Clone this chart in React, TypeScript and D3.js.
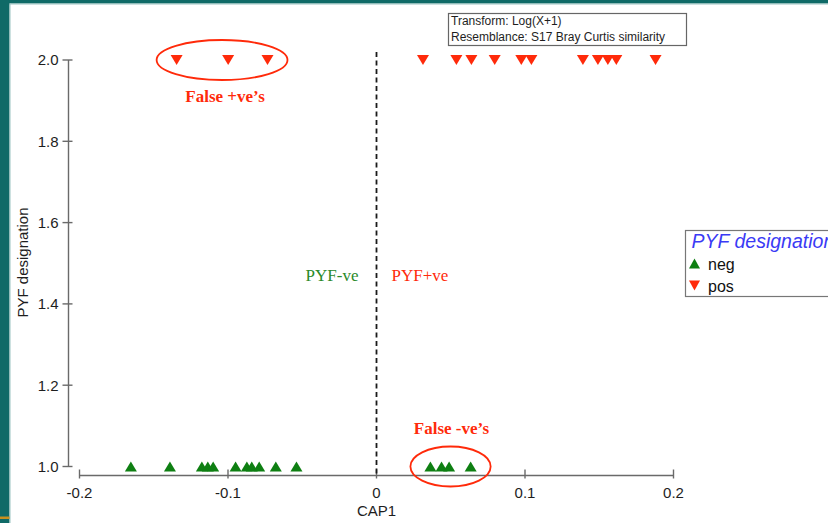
import React from "react";
import * as d3 from "d3";

// CAP1 scores of the samples, split by PYF designation (2 = pos, 1 = neg)
const posCap1 = [-0.1346, -0.0999, -0.0734, 0.0313, 0.0538, 0.0639, 0.0796, 0.0975, 0.1043, 0.139, 0.1491, 0.1558, 0.1615, 0.1879];
const negCap1 = [-0.1654, -0.1391, -0.1176, -0.1136, -0.11, -0.0949, -0.0873, -0.084, -0.079, -0.0678, -0.0539, 0.0363, 0.0438, 0.0489, 0.0634];
const posLevel = 2;
const negLevel = 1;

// misclassified samples (highlighted with ellipses)
const falsePos = [-0.1346, -0.0999, -0.0734];
const falseNeg = [0.0363, 0.0438, 0.0489, 0.0634];

const xTicks = [-0.2, -0.1, 0, 0.1, 0.2];
const xTickLabels = ["-0.2", "-0.1", "0", "0.1", "0.2"];
const yTicks = [1.0, 1.2, 1.4, 1.6, 1.8, 2.0];
const yTickLabels = ["1.0", "1.2", "1.4", "1.6", "1.8", "2.0"];

const infoLines = ["Transform: Log(X+1)", "Resemblance: S17 Bray Curtis similarity"];
const legendTitle = "PYF designation";
const legendItems = ["neg", "pos"];

const W = 828;
const H = 523;
const RED = "#ff2a0a";
const GREEN = "#0e7f12";
const AXIS = "#6a6a6a";
const TEXT = "#1e1e1e";
const SANS = "'Liberation Sans', Arial, sans-serif";
const SERIF = "'Liberation Serif', 'Times New Roman', serif";

const x = d3.scaleLinear().domain([-0.2, 0.2]).range([79.5, 673.5]);
const y = d3.scaleLinear().domain([1, 2]).range([466.5, 60]);
const xAxisY = 475.5;
const yAxisX = 68.5;

const triUp = (w: number, h: number) => `M0,${-h / 2}L${w / 2},${h / 2}L${-w / 2},${h / 2}Z`;
const triDown = (w: number, h: number) => `M0,${h / 2}L${w / 2},${-h / 2}L${-w / 2},${-h / 2}Z`;

function ellipseAround(vals: number[], level: number) {
  const lo = x(d3.min(vals) as number);
  const hi = x(d3.max(vals) as number);
  return { cx: (lo + hi) / 2, cy: y(level), rx: (hi - lo) / 2 + 20, ry: 20 };
}

export default function App() {
  const eTop = ellipseAround(falsePos, posLevel);
  const eBot = ellipseAround(falseNeg, negLevel);
  const zeroX = x(0);

  return (
    <svg
      width={W}
      height={H}
      viewBox={`0 0 ${W} ${H}`}
      style={{ position: "absolute", left: 0, top: 0, background: "#fff" }}
    >
      {/* slide frame */}
      <rect x={0} y={0} width={W} height={H} fill="#fff" />
      <rect x={0} y={0} width={W} height={3.5} fill="#0f6a67" />
      <rect x={0} y={3.5} width={W} height={1} fill="#9cc4c2" />
      <rect x={0} y={0} width={9.5} height={H} fill="#0f6a67" />
      <rect x={9.5} y={3.5} width={1} height={H} fill="#9cc4c2" />
      <rect x={0} y={516.5} width={9.5} height={2.5} fill="#c8901e" />

      {/* y axis */}
      <line x1={yAxisX} x2={yAxisX} y1={y(2)} y2={y(1)} stroke={AXIS} strokeWidth={1.4} />
      {yTicks.map((t, i) => (
        <g key={"yt" + i}>
          <line x1={yAxisX - 6} x2={yAxisX + 4} y1={y(t)} y2={y(t)} stroke={AXIS} strokeWidth={1.4} />
          <text x={58.5} y={y(t)} dy="0.36em" textAnchor="end" fontFamily={SANS} fontSize={15} fill={TEXT}>
            {yTickLabels[i]}
          </text>
        </g>
      ))}
      <text
        transform={`translate(27.5, 262.5) rotate(-90)`}
        textAnchor="middle"
        fontFamily={SANS}
        fontSize={15}
        fill={TEXT}
      >
        PYF designation
      </text>

      {/* x axis */}
      <line x1={x(-0.2)} x2={x(0.2)} y1={xAxisY} y2={xAxisY} stroke={AXIS} strokeWidth={1.4} />
      {xTicks.map((t, i) => (
        <g key={"xt" + i}>
          <line x1={x(t)} x2={x(t)} y1={xAxisY - 6} y2={xAxisY + 3} stroke={AXIS} strokeWidth={1.4} />
          <text x={x(t)} y={497.5} textAnchor="middle" fontFamily={SANS} fontSize={15} fill={TEXT}>
            {xTickLabels[i]}
          </text>
        </g>
      ))}
      <text x={x(0)} y={516} textAnchor="middle" fontFamily={SANS} fontSize={15} fill={TEXT}>
        CAP1
      </text>

      {/* decision boundary at CAP1 = 0 */}
      <line x1={zeroX} x2={zeroX} y1={52} y2={xAxisY} stroke="#1a1a1a" strokeWidth={1.8} strokeDasharray="5,3.5" />
      <text x={zeroX - 18} y={281} textAnchor="end" fontFamily={SERIF} fontSize={17} fill="#2a8a2a">
        PYF-ve
      </text>
      <text x={zeroX + 15} y={281} textAnchor="start" fontFamily={SERIF} fontSize={17} fill={RED}>
        PYF+ve
      </text>

      {/* samples */}
      {posCap1.map((v, i) => (
        <path key={"p" + i} d={triDown(12, 10)} transform={`translate(${x(v)},${y(posLevel)})`} fill={RED} />
      ))}
      {negCap1.map((v, i) => (
        <path key={"n" + i} d={triUp(12, 10)} transform={`translate(${x(v)},${y(negLevel)})`} fill={GREEN} />
      ))}

      {/* misclassification callouts */}
      <ellipse cx={eTop.cx} cy={eTop.cy} rx={eTop.rx} ry={eTop.ry} fill="none" stroke={RED} strokeWidth={1.8} />
      <text x={eTop.cx + 3} y={101.5} textAnchor="middle" fontFamily={SERIF} fontWeight="bold" fontSize={17} fill={RED}>
        False +ve’s
      </text>
      <ellipse cx={eBot.cx} cy={eBot.cy} rx={eBot.rx} ry={eBot.ry} fill="none" stroke={RED} strokeWidth={1.8} />
      <text x={eBot.cx + 1} y={434} textAnchor="middle" fontFamily={SERIF} fontWeight="bold" fontSize={17} fill={RED}>
        False -ve’s
      </text>

      {/* analysis info box */}
      <rect x={448.5} y={13.5} width={238} height={32} fill="#fff" stroke="#666" strokeWidth={1.2} />
      {infoLines.map((s, i) => (
        <text key={"info" + i} x={451} y={25 + i * 15.5} fontFamily={SANS} fontSize={12} fill={TEXT}>
          {s}
        </text>
      ))}

      {/* legend */}
      <rect x={685.5} y={230.5} width={200} height={66} fill="#fff" stroke="#777" strokeWidth={1.2} />
      <text x={691.5} y={248} fontFamily={SANS} fontStyle="italic" fontSize={19.5} fill="#3a3af5">
        {legendTitle}
      </text>
      {legendItems.map((s, i) => (
        <g key={"lg" + i}>
          <path
            d={i === 0 ? triUp(11, 10) : triDown(11, 10)}
            transform={`translate(694.5,${263.5 + i * 22})`}
            fill={i === 0 ? GREEN : RED}
          />
          <text x={708} y={269.5 + i * 22} fontFamily={SANS} fontSize={16} fill="#111">
            {s}
          </text>
        </g>
      ))}
    </svg>
  );
}
